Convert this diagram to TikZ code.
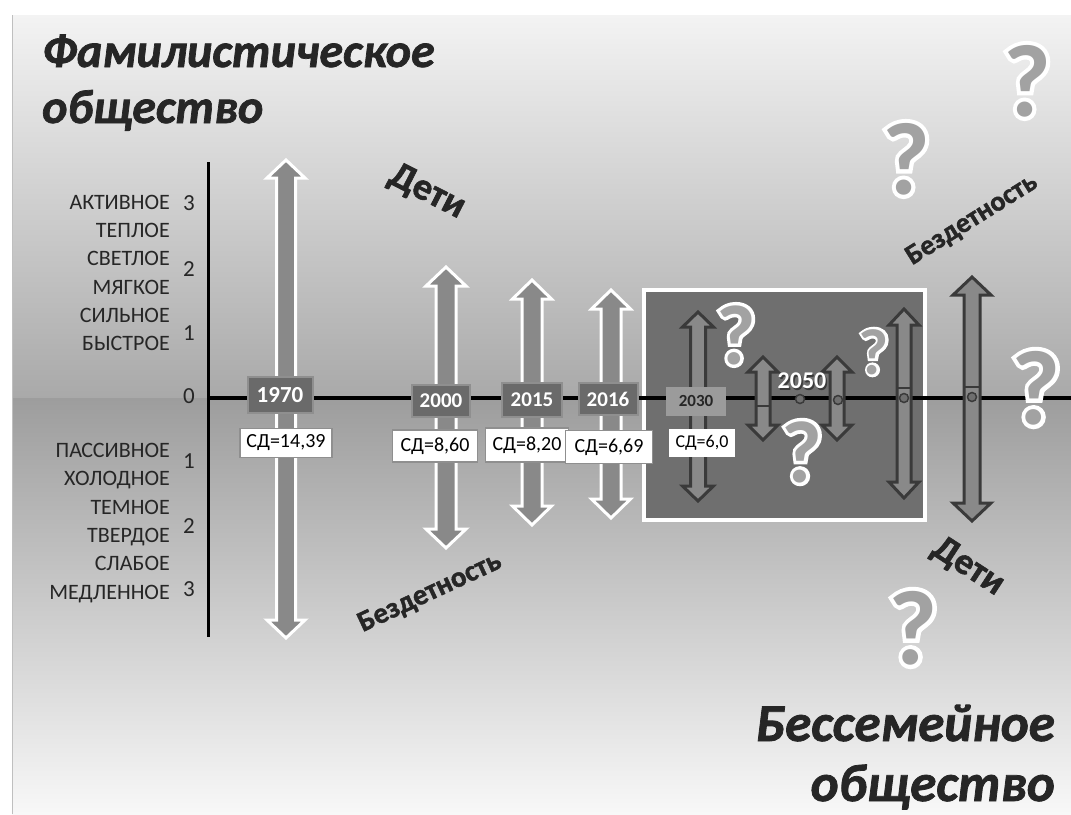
\documentclass[tikz,border=0pt]{standalone}
\usepackage{fontspec}
\setmainfont{Carlito}
\newfontfamily\qhalofont{Carlito}[BoldFeatures={FakeBold=8}]
\newfontfamily\heavyfont{Carlito}[BoldFeatures={FakeBold=1.5},BoldItalicFeatures={FakeBold=1.5}]
\usepackage{tikz}
\usetikzlibrary{calc}
\definecolor{slidetop} {HTML}{F3F3F3}
\definecolor{slidemid} {HTML}{A9A9A9}
\definecolor{slidelow} {HTML}{9D9D9D}
\definecolor{slidebot} {HTML}{F8F8F8}
\definecolor{ink}      {HTML}{262626}
\definecolor{shaftgray}{HTML}{898989}
\definecolor{yeargray} {HTML}{6A6A6A}
\definecolor{yearedge} {HTML}{8F8F8F}
\definecolor{futgray}  {HTML}{6F6F6F}
\definecolor{darkedge} {HTML}{3A3A3A}
\definecolor{qgray}    {HTML}{A2A2A2}
\definecolor{lightyear}{HTML}{9B9B9B}
\newcommand{\pxfont}[1]{\fontsize{#1}{#1}\selectfont}
% style, x, top, bottom, half shaft, half head, head length
\newcommand{\dblarrow}[7]{%
  \draw[#1] (#2,#3) -- ++(#6,#7) -- ++(#5-#6,0) -- (#2+#5,#4-#7) -- ++(#6-#5,0)
    -- (#2,#4) -- ++(-#6,-#7) -- ++(#6-#5,0) -- (#2-#5,#3+#7) -- ++(#5-#6,0) -- cycle;}
% name, x, y, size
\newcommand{\qmark}[4]{%
  \node[qhalo,font=\pxfont{#4}\qhalofont\bfseries] (#1-halo) at (#2,#3) {?};
  \node[qfill,font=\pxfont{#4}\bfseries] (#1) at (#2,#3) {?};}
\tikzset{
  lightarrow/.style={draw=white, fill=shaftgray, line width=3pt},
  darkarrow/.style ={draw=darkedge, fill=shaftgray, line width=3pt},
  yearbox/.style   ={draw=yearedge, fill=yeargray, line width=2pt, text=white,
                     font=\pxfont{21}\bfseries, inner sep=0pt},
  sdbox/.style     ={draw=yearedge, fill=white, line width=1.5pt, text=black,
                     font=\pxfont{20}, inner sep=0pt},
  scalelbl/.style  ={anchor=base east, font=\pxfont{22}, text=ink, inner sep=0pt},
  scalenum/.style  ={anchor=base, font=\pxfont{23}, text=ink, inner sep=0pt},
  titletext/.style ={font=\pxfont{48}\heavyfont\bfseries\itshape, text=ink, inner sep=0pt},
  wordlbl/.style   ={text=ink, inner sep=0pt},
  dotmark/.style   ={circle, fill=futgray, draw=darkedge, line width=1.5pt,
                     minimum size=9pt, inner sep=0pt},
  qhalo/.style     ={text=white, inner sep=0pt},
  qfill/.style     ={text=qgray, inner sep=0pt},
}
\begin{document}
\begin{tikzpicture}[x=1pt,y=-1pt]
  \useasboundingbox (0,0) rectangle (1071,814);
  \fill[white] (0,0) rectangle (1071,814);
  \shade[top color=slidetop, bottom color=slidemid] (12,15) rectangle (1071,398);
  \shade[top color=slidelow, bottom color=slidebot] (12,398) rectangle (1071,814);
  \draw[color=black!25, line width=1pt] (12,15) -- (12,814);

  \node[titletext, anchor=base west] (famtop) at (42,67) {Фамилистическое};
  \node[titletext, anchor=base west] (fambot) at (42,123) {общество};
  \node[titletext, font=\pxfont{53}\heavyfont\bfseries\itshape, anchor=base east] (besstop) at (1055,741) {Бессемейное};
  \node[titletext, font=\pxfont{53}\heavyfont\bfseries\itshape, anchor=base east] (bessbot) at (1055,801) {общество};

  \node[draw=white, fill=futgray, line width=4pt, minimum width=281pt,
        minimum height=230pt, inner sep=0pt] (future) at (784.5,405) {};

  \coordinate (vtop) at (208,162);
  \coordinate (vbot) at (208,637);
  \coordinate (hbeg) at (208,398);
  \coordinate (hend) at (1071,398);
  \draw[line width=3pt] (vtop) -- (vbot);
  \draw[line width=4pt] (hbeg) -- (hend);

  \foreach \y/\t/\n in {202/АКТИВНОЕ/a, 230/ТЕПЛОЕ/b, 258/СВЕТЛОЕ/c, 287/МЯГКОЕ/d,
                        315/СИЛЬНОЕ/e, 343/БЫСТРОЕ/f, 450/ПАССИВНОЕ/g, 478/ХОЛОДНОЕ/h,
                        507/ТЕМНОЕ/i, 535/ТВЕРДОЕ/j, 563/СЛАБОЕ/k, 592/МЕДЛЕННОЕ/l}
    \node[scalelbl] (lbl\n) at (170,\y+7) {\t};
  \foreach \y/\t/\n in {202/3/a, 268/2/b, 332/1/c, 395/0/d, 460/1/e, 525/2/f, 588/3/g}
    \node[scalenum] (num\n) at (189,\y+8) {\t};

  \dblarrow{lightarrow}{286}{160}{638}{9.5}{19}{18}
  \dblarrow{lightarrow}{446}{267}{548}{10}{20}{19}
  \dblarrow{lightarrow}{532}{280}{525}{10}{19.5}{19}
  \dblarrow{lightarrow}{611}{290}{518}{10}{19.5}{19}

  \dblarrow{darkarrow}{698}{312}{501}{7.5}{15.5}{15}
  \dblarrow{darkarrow}{763}{357}{440}{7}{15}{15}
  \dblarrow{darkarrow}{837}{357}{440}{7}{15}{15}
  \dblarrow{darkarrow}{904}{309}{498}{7}{15}{16}
  \dblarrow{darkarrow}{972}{277}{521}{8}{19}{18}
  \draw[darkedge, line width=2.5pt] (756,406) -- (770,406);
  \draw[darkedge, line width=2pt] (897,388) -- (911,388);
  \draw[darkedge, line width=2pt] (964,387) -- (980,387);

  \node[yearbox, font=\pxfont{23}\bfseries, minimum width=65pt, minimum height=36pt] (y1970) at (280,395) {1970};
  \node[yearbox, minimum width=58pt, minimum height=32pt] (y2000) at (441,401) {2000};
  \node[yearbox, minimum width=60pt, minimum height=34pt] (y2015) at (532,400) {2015};
  \node[yearbox, minimum width=59pt, minimum height=32pt] (y2016) at (608,399) {2016};
  \node[yearbox, fill=lightyear, draw=lightyear, text=ink, font=\pxfont{17}\bfseries,
        minimum width=58pt, minimum height=27pt] (y2030) at (696,401) {2030};

  \node[sdbox, minimum width=92pt, minimum height=29pt] (sd1970) at (286,443) {СД=14,39};
  \node[sdbox, minimum width=85pt, minimum height=32pt] (sd2000) at (435,446) {СД=8,60};
  \node[sdbox, minimum width=83pt, minimum height=34pt] (sd2015) at (527,445) {СД=8,20};
  \node[sdbox, minimum width=87pt, minimum height=33pt] (sd2016) at (609,447) {СД=6,69};
  \node[sdbox, draw=white, font=\pxfont{18}, minimum width=65pt, minimum height=27pt] (sd2030) at (702,443) {СД=6,0};

  \node[dotmark] (d2050) at (800,399) {};
  \node[dotmark] (dfut1) at (838,400) {};
  \node[dotmark] (dfut2) at (904,398) {};
  \node[dotmark] (dfut3) at (972,397) {};
  \node[text=darkedge, font=\pxfont{24}\bfseries, inner sep=0pt] (y2050s) at (803.5,382.5) {2050};
  \node[text=white, font=\pxfont{24}\bfseries, inner sep=0pt] (y2050) at (802,381) {2050};

  \node[wordlbl, font=\pxfont{38}\heavyfont\bfseries, rotate=-27] (kidstop) at (427,192) {Дети};
  \node[wordlbl, font=\pxfont{29}\heavyfont\bfseries, rotate=25] (nokidsbot) at (430,593) {Бездетность};
  \node[wordlbl, font=\pxfont{28}\heavyfont\bfseries, rotate=32] (nokidstop) at (972,220) {Бездетность};
  \node[wordlbl, font=\pxfont{37}\heavyfont\bfseries, rotate=-33] (kidsbot) at (968,567) {Дети};

  \qmark{qa}{1027}{81}{103}
  \qmark{qb}{906}{159}{103}
  \qmark{qc}{736}{335}{85}
  \qmark{qd}{874}{352}{65}
  \qmark{qe}{802}{452}{88}
  \qmark{qf}{1036}{388}{106}
  \qmark{qg}{913}{628}{106}
\end{tikzpicture}
\end{document}
